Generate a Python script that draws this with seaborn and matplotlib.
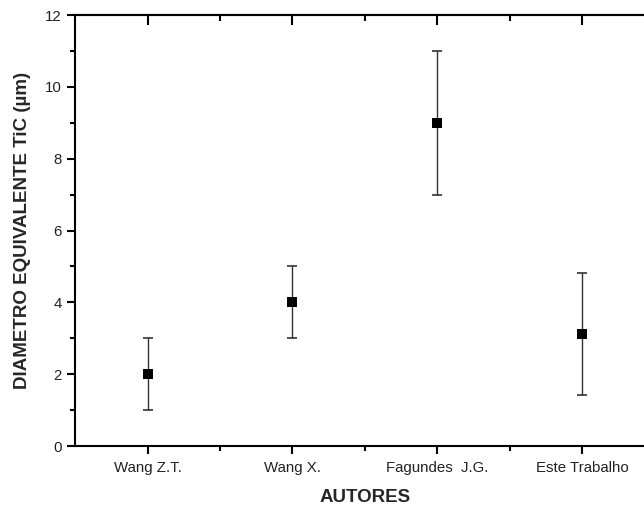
import matplotlib
matplotlib.use("Agg")
import matplotlib.pyplot as plt
import seaborn as sns
import numpy as np
import pandas as pd
from matplotlib.ticker import MultipleLocator, FixedLocator

autores = ["Wang Z.T.", "Wang X.", "Fagundes  J.G.", "Este Trabalho"]
diametro = [2.0, 4.0, 9.0, 3.12]
erro = [1.0, 1.0, 2.0, 1.7]

sns.set_theme(style="ticks")
plt.rcParams["font.family"] = ["Liberation Sans", "DejaVu Sans"]

df = pd.DataFrame({"autor": autores, "d": diametro, "e": erro})

fig = plt.figure(figsize=(6.44, 5.11), dpi=100)
ax = fig.add_axes([0.1165, 0.1272, 0.9005, 0.8434])

pos = np.arange(len(autores))
ax.errorbar(pos, df["d"], yerr=df["e"], fmt="none", ecolor="#333333",
            elinewidth=1.0, capsize=3.5, capthick=1.2, zorder=2)
sns.scatterplot(x=pos, y=df["d"], marker="s", color="black", s=48,
                edgecolor="black", linewidth=0, ax=ax, zorder=3)

ax.set_xlim(-0.5, 3.5)
ax.set_ylim(0, 12)
ax.set_xticks(pos)
ax.set_xticklabels(autores, fontsize=10.8, color="#222222")
ax.xaxis.set_minor_locator(FixedLocator([0.5, 1.5, 2.5]))
ax.yaxis.set_major_locator(MultipleLocator(2))
ax.yaxis.set_minor_locator(MultipleLocator(1))
ax.tick_params(axis="y", labelsize=10.8, labelcolor="#222222")

ax.tick_params(which="major", direction="out", length=6, width=1.5, color="black")
ax.tick_params(which="minor", direction="out", length=3.5, width=1.5, color="black")
ax.tick_params(axis="x", which="major", pad=5)

# inward ticks on top via secondary axis
top = ax.secondary_xaxis("top")
top.set_xticks(pos)
top.set_xticklabels([])
top.xaxis.set_minor_locator(FixedLocator([0.5, 1.5, 2.5]))
top.tick_params(which="major", direction="in", length=7, width=1.5, color="black")
top.tick_params(which="minor", direction="in", length=4, width=1.5, color="black")
top.spines["top"].set_linewidth(1.5)

for s in ["left", "bottom", "top"]:
    ax.spines[s].set_linewidth(1.5)
    ax.spines[s].set_color("black")
ax.spines["right"].set_visible(False)

ax.set_xlabel("AUTORES", fontsize=13.5, fontweight="bold", labelpad=10)
ax.set_ylabel("DIAMETRO EQUIVALENTE TiC (µm)", fontsize=13.5, fontweight="bold", labelpad=10)

fig.savefig("out.png", dpi=100)
